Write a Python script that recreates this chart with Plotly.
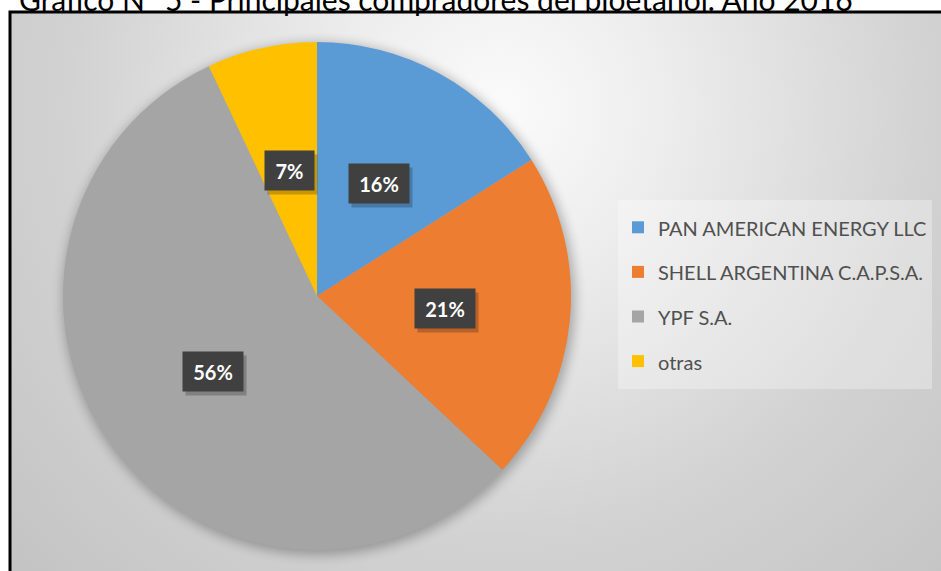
import base64
import math
import plotly.graph_objects as go

W, H = 941, 571

# ---- data ----
labels = ["PAN AMERICAN ENERGY LLC", "SHELL ARGENTINA C.A.P.S.A.", "YPF S.A.", "otras"]
values = [16, 21, 56, 7]
colors = ["#5B9BD5", "#ED7D31", "#A5A5A5", "#FFC000"]
title_text = "Gráfico N° 5 - Principales compradores del bioetanol. Año 2016"

# ---- layout geometry (pixels) ----
cx, cy, R = 317, 296, 254
frame_x, frame_y = 10, 12

# background gradient + pie shadow as an SVG image
svg = f'''<svg xmlns="http://www.w3.org/2000/svg" width="{W}" height="{H}" viewBox="0 0 {W} {H}">
<defs>
<radialGradient id="g" gradientUnits="userSpaceOnUse" cx="500" cy="110" r="660">
<stop offset="0" stop-color="#fbfbfb"/>
<stop offset="0.25" stop-color="#ededed"/>
<stop offset="0.65" stop-color="#d2d2d2"/>
<stop offset="1" stop-color="#c4c4c4"/>
</radialGradient>
<filter id="b" x="-20%" y="-20%" width="140%" height="140%"><feGaussianBlur stdDeviation="6"/></filter>
</defs>
<rect x="{frame_x}" y="{frame_y}" width="{W}" height="{H}" fill="url(#g)"/>
<circle cx="{cx+2}" cy="{cy+3}" r="{R+2}" fill="#000" opacity="0.28" filter="url(#b)"/>
</svg>'''
svg_uri = "data:image/svg+xml;base64," + base64.b64encode(svg.encode()).decode()

fig = go.Figure()
fig.add_trace(go.Pie(
    labels=[f'<span style="font-size:20px;baseline-shift:4px">{l}</span>' for l in labels],
    values=values,
    marker=dict(colors=colors, line=dict(width=0)),
    sort=False,
    direction="clockwise",
    rotation=0,
    textinfo="none",
    hovertemplate="%{label}: %{percent}<extra></extra>",
    domain=dict(x=[(cx - R) / W, (cx + R) / W], y=[1 - (cy + R) / H, 1 - (cy - R) / H]),
    showlegend=True,
))

# data label boxes, placed at mid-angle of each slice
total = sum(values)
annotations = []
cum = 0
for v in values:
    mid = (cum + v / 2) / total * 2 * math.pi
    cum += v
    px = cx + 0.505 * R * math.sin(mid)
    py = cy - 0.505 * R * math.cos(mid)
    txt = f"{round(v / total * 100)}%"
    bw = 27 + 11 * len(txt)
    # shadow
    annotations.append(dict(
        x=(px + 3) / W, y=1 - (py + 4) / H, xref="paper", yref="paper",
        xanchor="center", yanchor="middle",
        text=" ", showarrow=False, width=bw, height=39, borderpad=0,
        bgcolor="rgba(0,0,0,0.22)", font=dict(size=20),
    ))
    annotations.append(dict(
        x=px / W, y=1 - py / H, xref="paper", yref="paper",
        xanchor="center", yanchor="middle",
        text=f"<b>{txt}</b>", showarrow=False, width=bw, height=39, borderpad=0,
        bgcolor="#404040", font=dict(family="Lato", size=20, color="#ffffff"),
    ))

# title (cropped at the top as in the reference)
annotations.append(dict(
    x=17 / W, y=1 + 1.5 / H, xref="paper", yref="paper", xanchor="left", yanchor="middle",
    text=title_text, showarrow=False,
    font=dict(family="Lato", size=30, color="#000000"),
))

fig.update_layout(
    width=W, height=H,
    margin=dict(l=0, r=0, t=0, b=0),
    paper_bgcolor="#ffffff",
    plot_bgcolor="rgba(0,0,0,0)",
    images=[dict(source=svg_uri, xref="paper", yref="paper", x=0, y=1,
                 sizex=1, sizey=1, sizing="stretch", layer="below",
                 xanchor="left", yanchor="top")],
    shapes=[dict(type="rect", xref="paper", yref="paper",
                 x0=frame_x / W, y0=-0.05, x1=1.05, y1=1 - frame_y / H,
                 line=dict(color="#000000", width=3), fillcolor="rgba(0,0,0,0)", layer="above")],
    legend=dict(
        x=618 / W, y=1 - 200 / H, xanchor="left", yanchor="top",
        bgcolor="rgba(255,255,255,0.3)",
        font=dict(family="Lato", size=32, color="#505050"),
        traceorder="normal",
    ),
    annotations=annotations,
)

fig.write_html("out.html", config={"displayModeBar": False},
               post_script="document.body.style.margin='0px';")
